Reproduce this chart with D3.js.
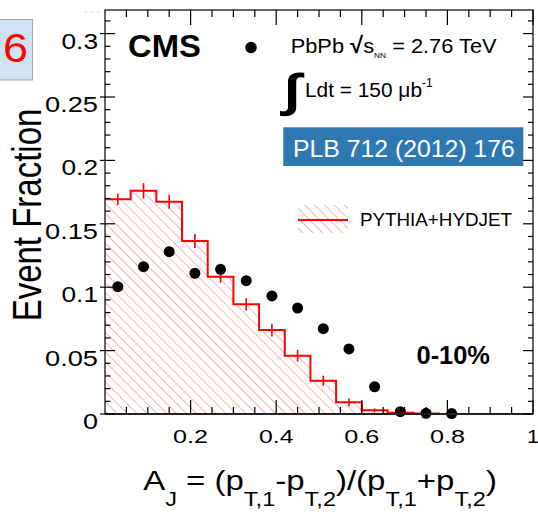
<!DOCTYPE html>
<html><head><meta charset="utf-8">
<script src="https://cdn.jsdelivr.net/npm/d3@7"></script>
<style>
html,body{margin:0;padding:0;background:#fff;}
svg text{font-family:"Liberation Sans",Arial,Helvetica,sans-serif;}
</style>
</head><body>
<svg id="chart" width="538" height="512"></svg>
<script>
// ---------------- DATA ----------------
const binLow  = [0,0.06,0.12,0.18,0.24,0.30,0.36,0.42,0.48,0.54,0.60,0.66,0.72,0.78,0.84,0.90,0.96];
const binHigh = [0.06,0.12,0.18,0.24,0.30,0.36,0.42,0.48,0.54,0.60,0.66,0.72,0.78,0.84,0.90,0.96,1.0];
const mcValues = [0.1693,0.1761,0.1674,0.1364,0.1083,0.0865,0.0662,0.0460,0.0263,0.0092,0.0029,0.0010,0.0003,0,0,0,0];
const mcErrors = [0.0045,0.0060,0.0055,0.0055,0.0050,0.0050,0.0050,0.0046,0.0040,0.0030,0.0015,0.0008,0,0,0,0,0];
const dataX = [0.03,0.09,0.15,0.21,0.27,0.33,0.39,0.45,0.51,0.57,0.63,0.69,0.75,0.81];
const dataY = [0.1004,0.1162,0.1280,0.1110,0.1141,0.1051,0.0931,0.0836,0.0673,0.0513,0.0215,0.0018,0.0005,0.0003];
const xTickValues = [0.2,0.4,0.6,0.8,1];
const xTickLabels = ["0.2","0.4","0.6","0.8","1"];
const yTickValues = [0,0.05,0.1,0.15,0.2,0.25,0.3];
const yTickLabels = ["0","0.05","0.1","0.15","0.2","0.25","0.3"];
const legendMC = "PYTHIA+HYDJET";
const centralityLabel = "0-10%";
const refLabel = "PLB 712 (2012) 176";

// ---------------- SETUP ----------------
const svg = d3.select("#chart");
const L = 105, R = 533, T = 10, B = 414;
const x = d3.scaleLinear().domain([0,1]).range([L,R]);
const y = d3.scaleLinear().domain([0,0.3]).range([B,33.6]);
const red = "#ff0000";

function fitText(g, t, targetW){
  const w = t.node().getBBox().width;
  g.attr("transform", g.attr("transform") + ` scale(${targetW/w},1)`);
}
function label(px, py, str, opts){
  const g = svg.append("g").attr("transform", `translate(${px},${py})`);
  const t = g.append("text").attr("x",0).attr("y",0)
    .attr("font-size", opts.size).attr("text-anchor", opts.anchor||"start")
    .attr("fill", opts.fill||"#000").attr("font-weight", opts.weight||"normal")
    .text(str);
  if(opts.width) fitText(g,t,opts.width);
  return t;
}

// hatch pattern
const defs = svg.append("defs");
defs.append("pattern").attr("id","hatch").attr("patternUnits","userSpaceOnUse")
  .attr("width",7).attr("height",7).attr("patternTransform","rotate(-45)")
  .append("line").attr("x1",0).attr("y1",0).attr("x2",0).attr("y2",7)
  .attr("stroke","#ff4d4d").attr("stroke-width",0.9);

// left slide box with "6"
svg.append("rect").attr("x",-5).attr("y",19.5).attr("width",37.5).attr("height",60.5)
  .attr("fill","#cfe2f3").attr("stroke","#a0a8b0").attr("stroke-width",1);
label(28, 62, "6", {size:40, anchor:"end", fill:"#ff0000", width:25});

// faint marks top-left
svg.append("line").attr("x1",85).attr("x2",99).attr("y1",12).attr("y2",12)
  .attr("stroke","#cccccc").attr("stroke-dasharray","2,4");

// ---------------- HISTOGRAM ----------------
const steps = [];
mcValues.forEach((v,i)=>{ steps.push([binLow[i],v]); steps.push([binHigh[i],v]); });
svg.append("path").datum(steps)
  .attr("d", d3.area().x(d=>x(d[0])).y0(y(0)).y1(d=>y(d[1])))
  .attr("fill","url(#hatch)");
svg.append("path").datum(steps)
  .attr("d", d3.line().x(d=>x(d[0])).y(d=>y(d[1])))
  .attr("fill","none").attr("stroke",red).attr("stroke-width",2);
svg.selectAll("line.err").data(mcValues.map((v,i)=>({c:(binLow[i]+binHigh[i])/2,v,e:mcErrors[i]})).filter(d=>d.e>0))
  .join("line").attr("class","err")
  .attr("x1",d=>x(d.c)).attr("x2",d=>x(d.c))
  .attr("y1",d=>y(d.v-d.e)).attr("y2",d=>y(d.v+d.e))
  .attr("stroke",red).attr("stroke-width",1.6);

// data points
svg.selectAll("circle.pt").data(dataX.map((d,i)=>[d,dataY[i]]))
  .join("circle").attr("class","pt")
  .attr("cx",d=>x(d[0])).attr("cy",d=>y(d[1])).attr("r",5.5).attr("fill","#000");

// ---------------- FRAME & TICKS ----------------
svg.append("rect").attr("x",L).attr("y",T).attr("width",R-L).attr("height",B-T)
  .attr("fill","none").attr("stroke","#000").attr("stroke-width",1.2);
svg.append("line").attr("x1",L).attr("x2",R).attr("y1",B).attr("y2",B)
  .attr("stroke","#222").attr("stroke-width",1.8);

const xMinor = x.ticks(20).filter(v=>!xTickValues.some(m=>Math.abs(m-v)<1e-6) && v>0);
const yMinor = d3.scaleLinear().domain([0,0.3186]).ticks(32).filter(v=>!yTickValues.some(m=>Math.abs(m-v)<1e-6) && v>0);
const tk = svg.append("g").attr("stroke","#000").attr("stroke-width",1.2);
tk.selectAll("line.bM").data(xTickValues).join("line").attr("class","bM")
  .attr("x1",d=>x(d)).attr("x2",d=>x(d)).attr("y1",B).attr("y2",B-14);
tk.selectAll("line.bm").data(xMinor).join("line").attr("class","bm")
  .attr("x1",d=>x(d)).attr("x2",d=>x(d)).attr("y1",B).attr("y2",B-7);
tk.selectAll("line.tM").data(xTickValues).join("line").attr("class","tM")
  .attr("x1",d=>x(d)).attr("x2",d=>x(d)).attr("y1",T).attr("y2",T+15);
tk.selectAll("line.tm").data(xMinor).join("line").attr("class","tm")
  .attr("x1",d=>x(d)).attr("x2",d=>x(d)).attr("y1",T).attr("y2",T+7);
tk.selectAll("line.lM").data(yTickValues).join("line").attr("class","lM")
  .attr("x1",L-5).attr("x2",L+10).attr("y1",d=>y(d)).attr("y2",d=>y(d));
tk.selectAll("line.lm").data(yMinor).join("line").attr("class","lm")
  .attr("x1",L).attr("x2",L+5.5).attr("y1",d=>y(d)).attr("y2",d=>y(d));
tk.selectAll("line.rM").data(yTickValues).join("line").attr("class","rM")
  .attr("x1",R).attr("x2",R-10).attr("y1",d=>y(d)).attr("y2",d=>y(d));
tk.selectAll("line.rm").data(yMinor).join("line").attr("class","rm")
  .attr("x1",R).attr("x2",R-5).attr("y1",d=>y(d)).attr("y2",d=>y(d));

// tick labels
xTickValues.forEach((v,i)=>{
  label(x(v), 443, xTickLabels[i], {size:19, anchor:"middle", width: xTickLabels[i].length>1?35:12});
});
yTickValues.forEach((v,i)=>{
  const s = yTickLabels[i];
  label(98, y(v)+15, s, {size:22, anchor:"end", width: s.length===1?15 : s.length===3?36.5:53});
});

// axis titles
{
  const g = svg.append("g").attr("transform","translate(41,215) rotate(-90) scale(1,1.25)");
  g.append("text").attr("text-anchor","middle").attr("font-size",33).text("Event Fraction");
}
{
  const g = svg.append("g").attr("transform","translate(320,490)");
  const t = g.append("text").attr("text-anchor","middle").attr("font-size",28);
  const parts = [["A",0],["J",1],[" = (p",0],["T,1",1],["-p",0],["T,2",1],[")/(p",0],["T,1",1],["+p",0],["T,2",1],[")",0]];
  let sub = 0;
  parts.forEach(([s,isSub])=>{
    const dy = isSub && !sub ? 16 : (!isSub && sub ? -16 : 0);
    t.append("tspan").attr("dy",dy).attr("font-size",isSub?20:28).text(s);
    sub = isSub;
  });
  fitText(g,t,354);
}

// ---------------- LABELS ----------------
label(128, 56.5, "CMS", {size:31, weight:"bold", width:73});
label(416.5, 364, centralityLabel, {size:25, weight:"bold", width:73.5});

// data legend
svg.append("circle").attr("cx",251).attr("cy",47.5).attr("r",5.8).attr("fill","#000");
{
  const g = svg.append("g").attr("transform","translate(290.7,52.5)");
  const t = g.append("text").attr("font-size",21);
  t.append("tspan").text("PbPb ");
  t.append("tspan").attr("font-weight","bold").attr("font-size",23).text("\u221A");
  t.append("tspan").text("s");
  t.append("tspan").attr("font-size",8).attr("dy",5).text("NN");
  t.append("tspan").attr("dy",-5).text(" = 2.76 TeV");
  fitText(g,t,206);
}
{
  const g = svg.append("g").attr("transform","translate(284,106) scale(1.3,1)");
  g.append("text").attr("font-size",46).attr("font-weight","bold").attr("font-family","DejaVu Sans").text("\u222B");
}
{
  const g = svg.append("g").attr("transform","translate(305,97)");
  const t = g.append("text").attr("font-size",21);
  t.append("tspan").text("Ldt = 150 \u03BCb");
  t.append("tspan").attr("font-size",12).attr("dy",-10).text("-1");
  fitText(g,t,128);
}
svg.append("rect").attr("x",283.3).attr("y",127.3).attr("width",240).attr("height",38.7).attr("fill","#2f79b3");
label(293, 156.5, refLabel, {size:23, fill:"#ffffff", width:222});

// MC legend
svg.append("rect").attr("x",298).attr("y",205).attr("width",50).attr("height",28).attr("fill","url(#hatch)");
svg.append("line").attr("x1",298).attr("x2",348).attr("y1",220).attr("y2",220).attr("stroke",red).attr("stroke-width",2);
label(360, 226, legendMC, {size:18, width:152});
</script>
</body></html>
